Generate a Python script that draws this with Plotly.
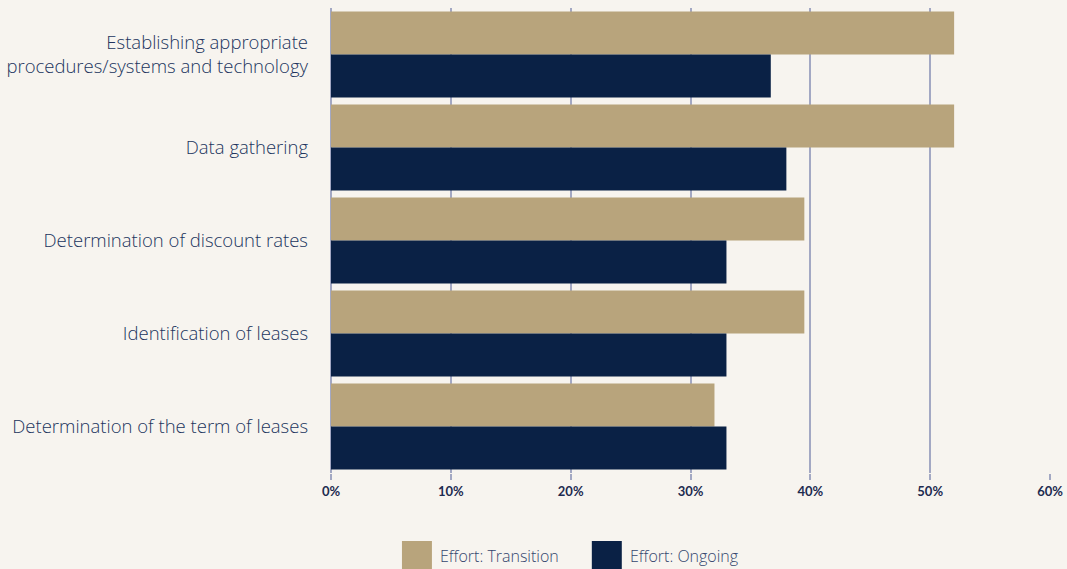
import plotly.graph_objects as go

categories = [
    "Establishing appropriate<br>procedures/systems and technology",
    "Data gathering",
    "Determination of discount rates",
    "Identification of leases",
    "Determination of the term of leases",
]
series_names = ["Effort: Transition", "Effort: Ongoing"]
transition = [52, 52, 39.5, 39.5, 32]
ongoing = [36.7, 38, 33, 33, 33]
x_ticks = [0, 10, 20, 30, 40, 50, 60]
x_tick_labels = ["0%", "10%", "20%", "30%", "40%", "50%", "60%"]

colors = ["#B8A47C", "#0A2145"]
bg = "#F7F4EF"
grid = "#A3A8C3"
label_font = "Open Sans"
text_col = "#22345E"

fig = go.Figure()
for name, vals, col in zip(series_names, [transition, ongoing], colors):
    fig.add_trace(go.Bar(
        y=categories, x=vals, name=name, orientation="h",
        marker=dict(color=col, line=dict(width=0)),
        showlegend=False,
    ))

fig.update_layout(
    barmode="group",
    bargap=0.075,
    bargroupgap=0,
    width=1067, height=569,
    paper_bgcolor=bg, plot_bgcolor=bg,
    margin=dict(l=331, r=16.5, t=8, b=96, autoexpand=False),
    font=dict(family=label_font, color=text_col),
    xaxis=dict(
        range=[0, 60], tickvals=x_ticks, ticktext=x_tick_labels,
        showgrid=True, gridcolor=grid, gridwidth=1.5,
        zeroline=True, zerolinecolor=grid, zerolinewidth=1.5,
        ticks="outside", ticklen=6, tickcolor=grid, tickwidth=1.5,
        tickfont=dict(family="Lato", size=13, color="#1D2B4F", weight="bold"),
        showline=False, fixedrange=True,
    ),
    yaxis=dict(
        autorange="reversed",
        tickfont=dict(family=label_font, size=18.5, color=text_col, weight=300),
        ticks="", ticklabelstandoff=22, showgrid=False, showline=False,
    ),
)

# custom legend (large swatches at bottom)
legend_x = [402, 592]
for name, col, lx in zip(series_names, colors, legend_x):
    fig.add_shape(type="rect", xref="paper", yref="paper",
                  x0=(lx - 331) / 719.5, x1=(lx + 30 - 331) / 719.5,
                  y0=(569 - 572 - 96) / 465, y1=(569 - 541 - 96) / 465,
                  fillcolor=col, line=dict(width=0), layer="above")
    fig.add_annotation(text=name, xref="paper", yref="paper",
                       x=(lx + 36 - 331) / 719.5, y=(569 - 556 - 96) / 465,
                       xanchor="left", yanchor="middle", showarrow=False,
                       font=dict(family=label_font, size=16, color="#34466E", weight=300))

fig.write_html("out.html", config={"displayModeBar": False},
               post_script="document.body.style.margin='0';document.body.style.overflow='hidden';")
